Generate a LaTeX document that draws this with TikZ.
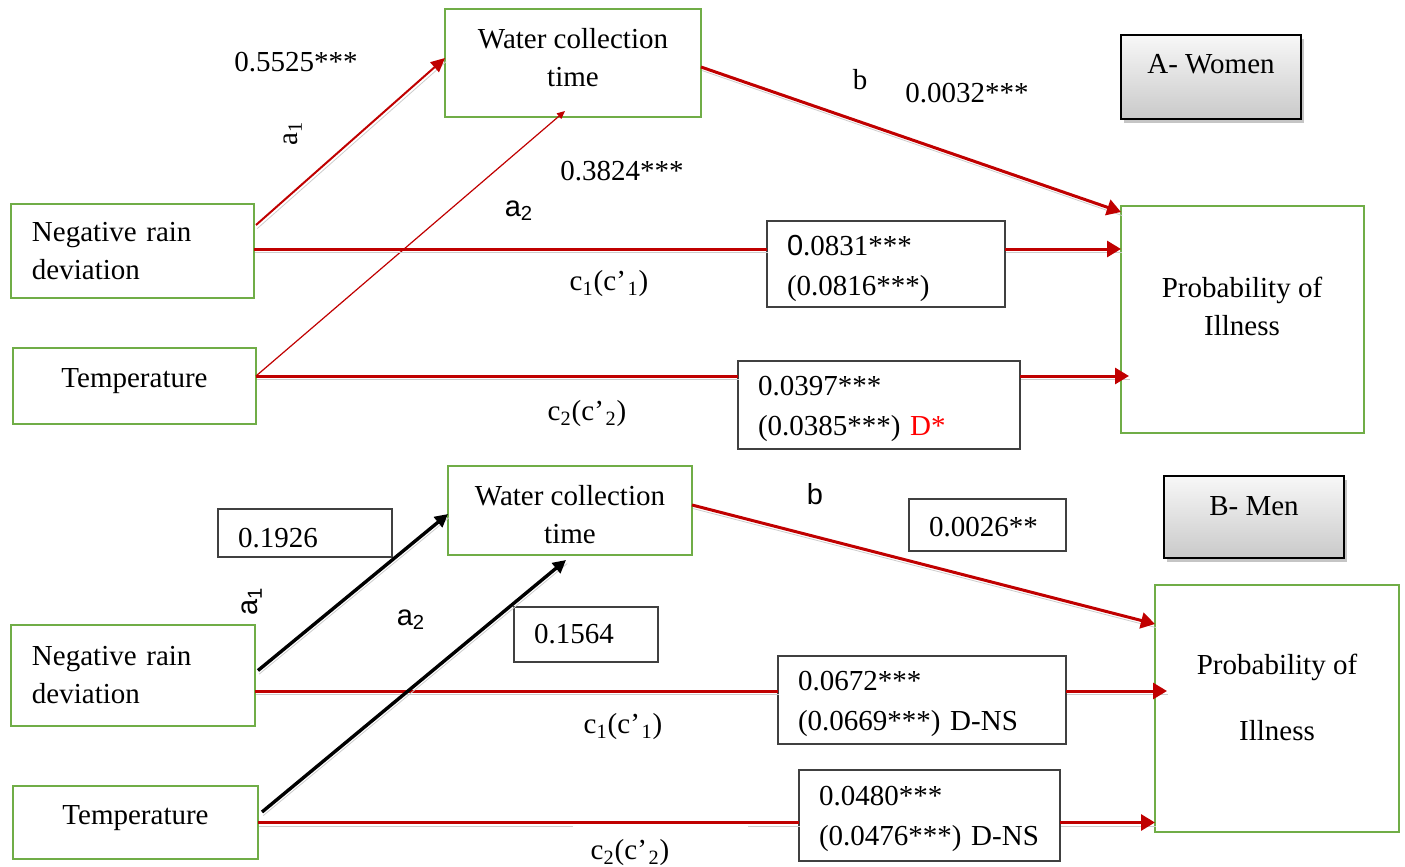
\documentclass[tikz,border=0pt]{standalone}
\usepackage{fontspec}
\setmainfont{Liberation Serif}
\newfontfamily\sansf{Liberation Sans}
\usetikzlibrary{arrows.meta,calc,shadows}
\definecolor{boxgreen}{HTML}{70AD47}
\definecolor{arrowred}{HTML}{C00000}
\definecolor{framegray}{HTML}{404040}

\begin{document}
\begin{tikzpicture}[x=0.5pt,y=-0.5pt,
  every node/.style={font=\fontsize{14.5pt}{19pt}\selectfont, inner sep=0pt, outer sep=0pt},
  varbox/.style={draw=boxgreen, line width=1.2pt, fill=white},
  valbox/.style={draw=framegray, line width=0.6pt, fill=white, align=left,
                 font=\fontsize{14.5pt}{20pt}\selectfont},
  groupbox/.style={draw=black, line width=1pt, top color=gray!6, bottom color=gray!42,
                   drop shadow={shadow xshift=1.5pt, shadow yshift=-2pt, fill=black!45}},
  whitebg/.style={fill=white, minimum height=24pt},
  shadeline/.style={preaction={draw=black!20, -, transform canvas={xshift=0.6pt,yshift=-1.8pt}}},
  redpath/.style={draw=arrowred, line width=1.5pt, shadeline},
  redtip/.style={-{Triangle[length=7pt,width=8pt]}},
  redthin/.style={draw=arrowred, line width=1pt, shadeline, -{Triangle[length=7pt,width=6.5pt]}},
  redhair/.style={draw=arrowred, line width=0.6pt, -{Triangle[length=4pt,width=3.5pt]}},
  blackpath/.style={draw=black, line width=1.7pt, shadeline, -{Triangle[length=6.5pt,width=6.5pt]}},
  sanslbl/.style={font=\sansf\fontsize{14.5pt}{19pt}\selectfont}
]
\useasboundingbox (0,0) rectangle (1405,867);

% ---------------- Panel A: women ----------------
\node[varbox, minimum width=128pt, minimum height=54pt] (waterA) at (573,63) {};
\node[align=center] (waterAt) at (573,58) {Water collection\\time};
\node[groupbox, minimum width=90pt, minimum height=42pt] (womenA) at (1211,77) {};
\node (womenAt) at (1211,64) {A- Women};
\node[varbox, minimum width=121.5pt, minimum height=47pt, text width=100.5pt, align=left] (negA) at (132.5,251) {Negative rain\\deviation};
\node[varbox, minimum width=121.5pt, minimum height=38pt] (tempA) at (134.5,386) {};
\node (tempAt) at (134.5,381) {Temperature};
\node[varbox, minimum width=121.5pt, minimum height=113.5pt] (probA) at (1242.5,319.5) {};
\node[align=center] (probAt) at (1242,306) {Probability of\\Illness};

\node[valbox, minimum width=119pt, minimum height=43pt] (vA1) at (886,264) {};
\node[valbox, draw=none, fill=none, text width=99pt] (vA1t) at (886,268) {{\sansf 0}.0831***\\(0.0816***)};
\node[valbox, minimum width=141pt, minimum height=44pt] (vA2) at (879,405) {};
\node[valbox, draw=none, fill=none, text width=121pt] (vA2t) at (879,409) {0.0397***\\(0.0385***) \textcolor{red}{D*}};

% anchor points on the boxes' sides
\coordinate (negAout) at ($(negA.east)+(0,-2)$);
\coordinate (tempAout) at ($(tempA.east)+(0,-10)$);

% paths of panel A
\draw[redthin] ($(negA.north east)+(2,21)$) -- ($(waterA.west)+(0,-5)$);
\draw[redhair] (tempAout) -- ($(waterA.south)+(-8,-6)$);
\draw[redpath, redtip] ($(waterA.east)+(0,4)$) -- ($(probA.north west)+(0,6)$);
\draw[redpath] (negAout) -- (negAout -| vA1.west);
\draw[redpath, redtip] (negAout -| vA1.east) -- (negAout -| probA.west);
\draw[redpath] (tempAout) -- (tempAout -| vA2.west);
\draw[redpath, redtip, shorten >=-4pt] (tempAout -| vA2.east) -- (tempAout -| probA.west);

\node[whitebg, minimum width=74pt, anchor=north] (cA1bg) at (627,254) {};
\node (lA1v) at (296,62) {0.5525***};
\node[rotate=90] (lA1) at (293,133) {a\textsubscript{1}};
\node (lA2v) at (622,171) {0.3824***};
\node[sanslbl] (lA2) at (519,211) {a\textsubscript{2}};
\node (lAb) at (860,80) {b};
\node (lAbv) at (967,93) {0.0032***};
\node (lAc1) at (609,284) {c\textsubscript{1}(c’\kern0.8pt\textsubscript{1})};
\node (lAc2) at (587,414) {c\textsubscript{2}(c’\kern0.8pt\textsubscript{2})};

% ---------------- Panel B: men ----------------
\node[varbox, minimum width=122pt, minimum height=44.5pt, align=center] (waterB) at (570,510.5) {};
\node[align=center] (waterBt) at (570,515) {Water collection\\time};
\node[groupbox, minimum width=90pt, minimum height=41pt] (menB) at (1254,517) {};
\node (menBt) at (1254,506) {B- Men};
\node[varbox, minimum width=122pt, minimum height=50.5pt, text width=101pt, align=left] (negB) at (133,675.5) {Negative rain\\deviation};
\node[varbox, minimum width=122.5pt, minimum height=36.5pt] (tempB) at (135.5,822.5) {};
\node (tempBt) at (135.5,818) {Temperature};
\node[varbox, minimum width=122pt, minimum height=123.5pt] (probB) at (1277,708.5) {};
\node[align=center, font=\fontsize{14.5pt}{33pt}\selectfont] (probBt) at (1277,697) {Probability of\\Illness};

\node[valbox, minimum width=87pt, minimum height=24pt] (vB0) at (305,533) {};
\node[valbox, draw=none, fill=none, text width=67pt] (vB0t) at (305,538) {0.1926};
\node[valbox, minimum width=72pt, minimum height=27.5pt, text width=52pt] (vB3) at (586,634.5) {0.1564};
\node[valbox, minimum width=78.5pt, minimum height=26pt] (vBb) at (987.5,525) {};
\node[valbox, draw=none, fill=none, text width=58.5pt] (vBbt) at (987.5,527) {0.0026**};
\node[valbox, minimum width=144pt, minimum height=44pt] (vB1) at (922,700) {};
\node[valbox, draw=none, fill=none, text width=124pt] (vB1t) at (922,704) {0.0672***\\(0.0669***) D-NS};
\node[valbox, minimum width=130.5pt, minimum height=45.5pt] (vB2) at (929.5,815.5) {};
\node[valbox, draw=none, fill=none, text width=110.5pt] (vB2t) at (929.5,819) {0.0480***\\(0.0476***) D-NS};

\coordinate (negBout) at ($(negB.east)+(0,15.5)$);

% paths of panel B
\draw[redpath] (negBout) -- (negBout -| vB1.west);
\draw[redpath, redtip, shorten >=-6pt] (negBout -| vB1.east) -- (negBout -| probB.west);
\draw[redpath] (tempB.east) -- (tempB.east -| vB2.west);
\draw[redpath, redtip] (tempB.east -| vB2.east) -- (tempB.east -| probB.west);
\draw[redpath, redtip] ($(waterB.east)+(0,-5.5)$) -- ($(probB.north west)+(0,39)$);
\draw[blackpath] ($(negB.east)+(3,-5)$) -- ($(waterB.west)+(0,3.5)$);
\draw[blackpath] ($(tempB.east)+(4,-10.5)$) -- ($(waterB.south)+(-4,5)$);

\node[whitebg, minimum width=74pt, anchor=north] (cB1bg) at (641,697) {};
\node[whitebg, minimum width=87.5pt, anchor=north] (cB2bg) at (660.5,825) {};
\node[sanslbl, rotate=90] (lB1) at (252,601) {a\textsubscript{1}};
\node[sanslbl] (lB2) at (411,620) {a\textsubscript{2}};
\node[sanslbl] (lBb) at (815,494) {b};
\node (lBc1) at (623,727) {c\textsubscript{1}(c’\kern0.8pt\textsubscript{1})};
\node (lBc2) at (630,853) {c\textsubscript{2}(c’\kern0.8pt\textsubscript{2})};
\end{tikzpicture}
\end{document}
